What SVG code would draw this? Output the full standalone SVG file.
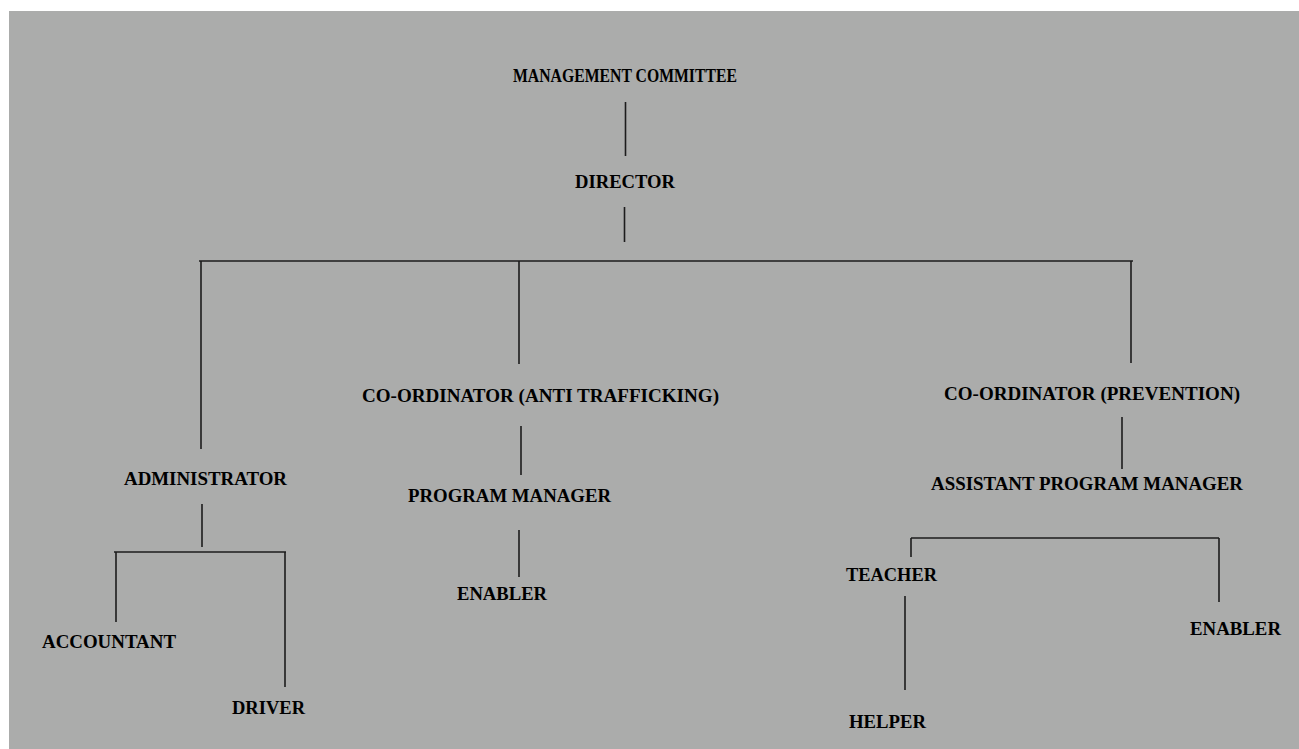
<svg xmlns="http://www.w3.org/2000/svg" width="1299" height="749" viewBox="0 0 1299 749">
<style>
.t{font-family:"Liberation Serif","Times New Roman",serif;font-weight:bold;font-size:19px;fill:#000}
.c line{stroke:#1c1c1c;stroke-width:1.6;fill:none}
</style>
<rect x="0" y="0" width="1299" height="749" fill="#ffffff"/>
<rect x="9" y="11" width="1290" height="738" fill="#abacab"/>
<g class="c" id="connectors">
<line x1="625.5" y1="102" x2="625.5" y2="156"/>
<line x1="624.5" y1="207" x2="624.5" y2="242"/>
<line x1="199" y1="261" x2="1133" y2="261"/>
<line x1="201" y1="261" x2="201" y2="449"/>
<line x1="519" y1="261" x2="519" y2="364"/>
<line x1="1131" y1="261" x2="1131" y2="363"/>
<line x1="202" y1="504" x2="202" y2="547"/>
<line x1="114" y1="552" x2="286" y2="552"/>
<line x1="116" y1="552" x2="116" y2="622"/>
<line x1="285" y1="552" x2="285" y2="687"/>
<line x1="521" y1="426" x2="521" y2="475"/>
<line x1="519" y1="530" x2="519" y2="577"/>
<line x1="1122" y1="417" x2="1122" y2="469"/>
<line x1="911" y1="538" x2="1219" y2="538"/>
<line x1="911" y1="538" x2="911" y2="557"/>
<line x1="1219" y1="538" x2="1219" y2="602"/>
<line x1="905" y1="596" x2="905" y2="690"/>
</g>
<g id="n-mc"><text class="t" x="513" y="82" textLength="224" lengthAdjust="spacingAndGlyphs">MANAGEMENT COMMITTEE</text></g>
<g id="n-director"><text class="t" x="575" y="188" textLength="100" lengthAdjust="spacingAndGlyphs">DIRECTOR</text></g>
<g id="n-admin"><text class="t" x="124" y="485" textLength="163" lengthAdjust="spacingAndGlyphs">ADMINISTRATOR</text></g>
<g id="n-accountant"><text class="t" x="42" y="648" textLength="134" lengthAdjust="spacingAndGlyphs">ACCOUNTANT</text></g>
<g id="n-driver"><text class="t" x="232" y="714" textLength="73" lengthAdjust="spacingAndGlyphs">DRIVER</text></g>
<g id="n-coord-at"><text class="t" x="362" y="402" textLength="357" lengthAdjust="spacingAndGlyphs">CO-ORDINATOR (ANTI TRAFFICKING)</text></g>
<g id="n-pm"><text class="t" x="408" y="502" textLength="203" lengthAdjust="spacingAndGlyphs">PROGRAM MANAGER</text></g>
<g id="n-enabler1"><text class="t" x="457" y="600" textLength="90" lengthAdjust="spacingAndGlyphs">ENABLER</text></g>
<g id="n-coord-prev"><text class="t" x="944" y="400" textLength="296" lengthAdjust="spacingAndGlyphs">CO-ORDINATOR (PREVENTION)</text></g>
<g id="n-apm"><text class="t" x="931" y="490" textLength="312" lengthAdjust="spacingAndGlyphs">ASSISTANT PROGRAM MANAGER</text></g>
<g id="n-teacher"><text class="t" x="846" y="581" textLength="91" lengthAdjust="spacingAndGlyphs">TEACHER</text></g>
<g id="n-enabler2"><text class="t" x="1190" y="635" textLength="91" lengthAdjust="spacingAndGlyphs">ENABLER</text></g>
<g id="n-helper"><text class="t" x="849" y="728" textLength="77" lengthAdjust="spacingAndGlyphs">HELPER</text></g>
</svg>
